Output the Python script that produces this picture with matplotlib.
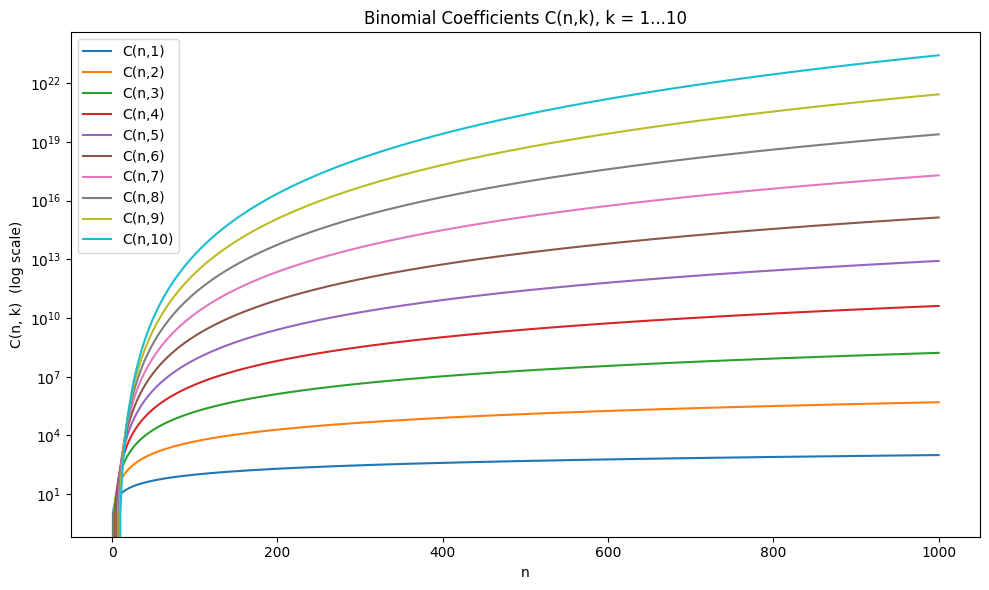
import math

import matplotlib
matplotlib.use("Agg")
import matplotlib.pyplot as plt


N_MAX = 1000
K_VALUES = list(range(1, 11))
n_values = list(range(0, N_MAX + 1))

plt.figure(figsize=(10, 6), dpi=100)
for k in K_VALUES:
    coeffs = [math.comb(n, k) for n in n_values]
    plt.plot(n_values, coeffs, label='C(n,{k})'.format(k=k))

plt.yscale('log')
plt.title("Binomial Coefficients C(n,k), k = 1...10")
plt.xlabel('n')
plt.ylabel('C(n, k)  (log scale)')
plt.legend(loc='upper left')
plt.tight_layout()
plt.savefig('out.png', dpi=100, bbox_inches='tight')
